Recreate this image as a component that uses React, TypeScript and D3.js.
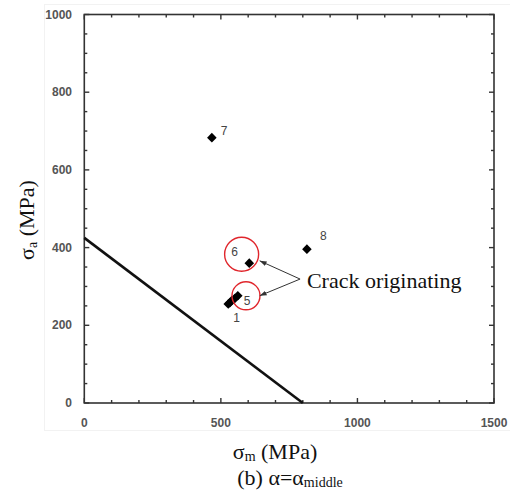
import React from "react";
import * as d3 from "d3";

// Stress amplitude vs mean stress for the tested specimens
const specimenIds = ["7", "8", "6", "5", "4", "3", "2", "1"];
const meanStress = [467, 815, 604, 562, 551, 540, 533, 527];
const ampStress = [683, 396, 360, 276, 269, 264, 258, 255];
const shownLabels = ["7", "8", "6", "5", "1"];

// Fatigue limit line (amplitude-axis intercept to mean-axis intercept)
const limitLineX = [0, 800];
const limitLineY = [425, 0];

const xMajorTicks = [0, 500, 1000, 1500];
const yMajorTicks = [0, 200, 400, 600, 800, 1000];

// Highlight rings around the crack-origin specimens (data coordinates)
const ringCenters = [
  { x: 576, y: 383, r: 17 },
  { x: 592, y: 276, r: 14 },
];
const calloutFrom = { x: 790, y: 319 };
const calloutTips = [
  { x: 642, y: 366 },
  { x: 642, y: 276 },
];
const calloutText = "Crack originating";
const calloutAt = { x: 815, y: 296 };

const labelOffsets: Record<string, [number, number]> = {
  "7": [9, -3],
  "8": [13, -9],
  "6": [-18, -7],
  "5": [6, 9],
  "1": [5, 18],
};

const tickStyle: React.CSSProperties = {
  fontFamily: '"Liberation Sans Narrow", "Arial Narrow", "Liberation Sans", Arial, sans-serif',
  fontWeight: 700,
  fontSize: "12px",
};
const smallStyle: React.CSSProperties = {
  fontFamily: '"Liberation Sans Narrow", "Arial Narrow", "Liberation Sans", Arial, sans-serif',
  fontSize: "12px",
};
const serifStyle: React.CSSProperties = {
  fontFamily: '"Liberation Serif", "Times New Roman", Times, serif',
  fontSize: "22px",
};
const subStyle: React.CSSProperties = { fontSize: "14px" };

export default function App() {
  const W = 510;
  const H = 500;
  const x = d3.scaleLinear().domain([0, 1500]).range([84.3, 494]);
  const y = d3.scaleLinear().domain([0, 1000]).range([403, 14.5]);

  const xMinor = d3.range(0, 1501, 100).filter((v) => !xMajorTicks.includes(v));
  const yMinor = d3.range(0, 1001, 50).filter((v) => !yMajorTicks.includes(v));

  const diamond = d3.symbol().type(d3.symbolSquare).size(46)()!;
  const line = d3
    .line<number>()
    .x((_, i) => x(limitLineX[i]))
    .y((d) => y(d));

  const axisColor = "#333";
  const x0 = x(0),
    x1 = x(1500),
    y0 = y(0),
    y1 = y(1000);

  return (
    <svg width={W} height={H} style={{ position: "absolute", left: 0, top: 0 }}>
      <defs>
        <marker id="ah" viewBox="0 0 10 10" refX="10" refY="5" markerWidth="7" markerHeight="7" orient="auto">
          <path d="M0,1.5 L10,5 L0,8.5 Z" fill="#333" />
        </marker>
      </defs>
      <rect x={0} y={0} width={W} height={H} fill="#fff" />
      <rect x={44.5} y={4.5} width={470} height={426} fill="none" stroke="#f2f2f2" />

      {/* frame */}
      <rect x={x0} y={y1} width={x1 - x0} height={y0 - y1} fill="none" stroke={axisColor} strokeWidth={1.6} />

      {/* ticks on all four sides, pointing inward */}
      {xMajorTicks.map((v) => (
        <g key={"xM" + v}>
          <line x1={x(v)} x2={x(v)} y1={y0} y2={y0 - 5} stroke={axisColor} strokeWidth={1.4} />
          <line x1={x(v)} x2={x(v)} y1={y1} y2={y1 + 5} stroke={axisColor} strokeWidth={1.4} />
          <text x={x(v)} y={427} textAnchor="middle" style={tickStyle} fill="#555">
            {v}
          </text>
        </g>
      ))}
      {xMinor.map((v) => (
        <g key={"xm" + v}>
          <line x1={x(v)} x2={x(v)} y1={y0} y2={y0 - 3} stroke={axisColor} strokeWidth={1.4} />
          <line x1={x(v)} x2={x(v)} y1={y1} y2={y1 + 3} stroke={axisColor} strokeWidth={1.4} />
        </g>
      ))}
      {yMajorTicks.map((v) => (
        <g key={"yM" + v}>
          <line x1={x0} x2={x0 + 5} y1={y(v)} y2={y(v)} stroke={axisColor} strokeWidth={1.4} />
          <line x1={x1} x2={x1 - 5} y1={y(v)} y2={y(v)} stroke={axisColor} strokeWidth={1.4} />
          <text x={72} y={y(v) + 4} textAnchor="end" style={tickStyle} fill="#555">
            {v}
          </text>
        </g>
      ))}
      {yMinor.map((v) => (
        <g key={"ym" + v}>
          <line x1={x0} x2={x0 + 3} y1={y(v)} y2={y(v)} stroke={axisColor} strokeWidth={1.4} />
          <line x1={x1} x2={x1 - 3} y1={y(v)} y2={y(v)} stroke={axisColor} strokeWidth={1.4} />
        </g>
      ))}

      {/* fatigue limit line */}
      <path d={line(limitLineY) ?? ""} fill="none" stroke="#111" strokeWidth={2.6} />

      {/* specimens */}
      {meanStress.map((m, i) => (
        <path
          key={"p" + specimenIds[i]}
          d={diamond}
          transform={`translate(${x(m)},${y(ampStress[i])}) rotate(45)`}
          fill="#000"
        />
      ))}
      {meanStress.map((m, i) => {
        const id = specimenIds[i];
        if (!shownLabels.includes(id)) return null;
        const [dx, dy] = labelOffsets[id];
        return (
          <text key={"l" + id} x={x(m) + dx} y={y(ampStress[i]) + dy} style={smallStyle} fill="#444">
            {id}
          </text>
        );
      })}

      {/* crack-origin rings and callout */}
      {ringCenters.map((c, i) => (
        <circle key={"c" + i} cx={x(c.x)} cy={y(c.y)} r={c.r} fill="none" stroke="#e0262c" strokeWidth={1.4} />
      ))}
      {calloutTips.map((t, i) => (
        <line
          key={"a" + i}
          x1={x(calloutFrom.x)}
          y1={y(calloutFrom.y)}
          x2={x(t.x)}
          y2={y(t.y)}
          stroke="#333"
          strokeWidth={1}
          markerEnd="url(#ah)"
        />
      ))}
      <text x={x(calloutAt.x)} y={y(calloutAt.y)} style={serifStyle} fill="#111">
        {calloutText}
      </text>

      {/* axis titles */}
      <text transform="translate(34,220) rotate(-90)" textAnchor="middle" style={serifStyle} fill="#111">
        σ<tspan style={subStyle} dy={3}>a</tspan>
        <tspan dy={-3}> (MPa)</tspan>
      </text>
      <text x={275} y={459} textAnchor="middle" style={serifStyle} fill="#111">
        σ<tspan style={subStyle} dy={2}>m</tspan>
        <tspan dy={-2}> (MPa)</tspan>
      </text>
      <text x={290} y={485} textAnchor="middle" style={serifStyle} fill="#111">
        (b) α=α<tspan style={subStyle} dy={2}>middle</tspan>
      </text>
    </svg>
  );
}
